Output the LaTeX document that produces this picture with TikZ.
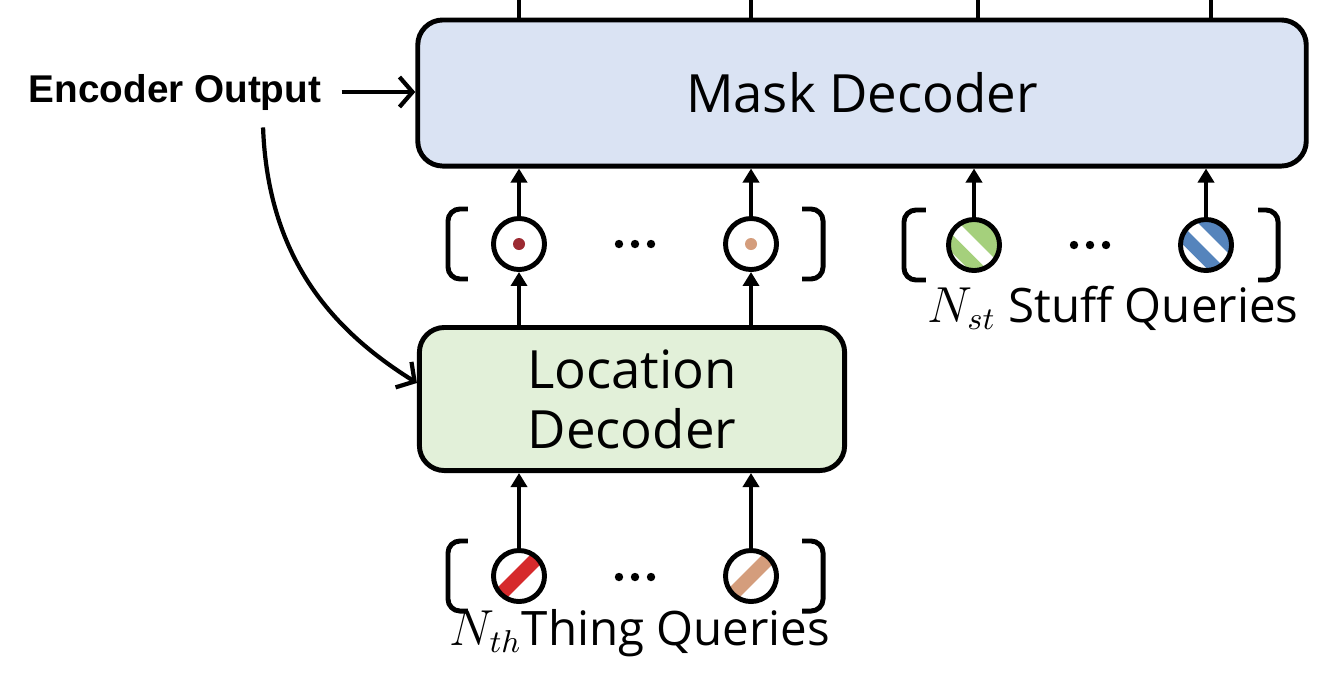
\documentclass[tikz,border=0pt]{standalone}
\usepackage{fontspec}
\setmainfont{Open Sans}
\newfontfamily\encfont{Liberation Sans}
\usetikzlibrary{arrows.meta, positioning}
\definecolor{mask_blue}{HTML}{DAE3F3}
\definecolor{loc_green}{HTML}{E2F0D9}
\definecolor{thing_red}{HTML}{D62A2C}
\definecolor{thing_tan}{HTML}{D49D7C}
\definecolor{dot_red}{HTML}{9C2A32}
\definecolor{stuff_green}{HTML}{A5D07C}
\definecolor{stuff_blue}{HTML}{5584BC}
\tikzstyle{decoder} = [rectangle, rounded corners=0.25cm, line width=1.4pt, draw=black, align=center, font=\fontsize{15}{17}\selectfont]
\tikzstyle{query} = [circle, minimum size=0.51cm, inner sep=0pt, line width=1.4pt, draw=black, fill=white]
\tikzstyle{query_text} = [font=\fontsize{13.5}{16}\selectfont, anchor=base]
\tikzstyle{arrow} = [line width=1.2pt, -{Triangle[length=0.14cm, width=0.16cm]}]
\tikzstyle{barb_arrow} = [line width=1.2pt, -{Straight Barb[length=0.13cm, width=0.3cm]}]
\tikzstyle{bracket} = [line width=1.4pt, rounded corners=0.12cm]
\tikzstyle{out_line} = [line width=1pt]
\tikzset{
  dot_query/.style={query, path picture={\fill[#1] (path picture bounding box.center) circle (0.06cm);}},
  thing_query/.style={query, path picture={\fill[#1, shift={(path picture bounding box.center)}] (-33.2,23.3) -- (23.3,-33.2) -- (33.2,-23.3) -- (-23.3,33.2) -- cycle;}},
  stuff_query/.style n args={5}{query, path picture={\fill[#1, shift={(path picture bounding box.center)}]
    ({0.707*(-40+(#2))},{0.707*(-40-(#2))}) -- ({0.707*(40+(#2))},{0.707*(40-(#2))}) -- ({0.707*(40+(#3))},{0.707*(40-(#3))}) -- ({0.707*(-40+(#3))},{0.707*(-40-(#3))}) -- cycle
    ({0.707*(-40+(#4))},{0.707*(-40-(#4))}) -- ({0.707*(40+(#4))},{0.707*(40-(#4))}) -- ({0.707*(40+(#5))},{0.707*(40-(#5))}) -- ({0.707*(-40+(#5))},{0.707*(-40-(#5))}) -- cycle;}}
}

\begin{document}
\begin{tikzpicture}[x=0.01cm, y=-0.01cm]
        \useasboundingbox (0,0) rectangle (1337,678);

        \node (mask) [decoder, fill=mask_blue, minimum width=8.88cm, minimum height=1.46cm] at (862,93) {Mask Decoder};
        \node (loc) [decoder, fill=loc_green, minimum width=4.25cm, minimum height=1.43cm] at (632,399) {Location\\Decoder};
        \node (enc) [font=\encfont\bfseries\fontsize{11}{13}\selectfont, anchor=base] at (175,102) {Encoder Output};

        \node (th1) [dot_query=dot_red] at (519,244) {};
        \node (th2) [dot_query=thing_tan] at (751,244) {};
        \node (st1) [stuff_query={stuff_green}{5}{30}{-21}{-8}] at (974,245) {};
        \node (st2) [stuff_query={stuff_blue}{10}{30}{-16}{-3}] at (1206,245) {};
        \node (in1) [thing_query=thing_red] at (519,576) {};
        \node (in2) [thing_query=thing_tan] at (751,576) {};

        \node (stuff_label) [query_text] at (1113,322) {$N_{st}$ Stuff Queries};
        \node (thing_label) [query_text] at (640,645) {$N_{th}$Thing Queries};

        \coordinate (dots_th) at (635,244);
        \coordinate (dots_st) at (1090,245);
        \coordinate (dots_in) at (635,577);
        \foreach \d in {dots_th, dots_st, dots_in}
            \foreach \x in {-0.16, 0, 0.16}
                \fill ([xshift=\x cm]\d) circle (0.042cm);

        \foreach \c/\o/\w in {th1/-0.51/-0.2, th2/0.51/0.21, st1/-0.48/-0.22, st2/0.52/0.2, in1/-0.51/-0.2, in2/0.51/0.21}
            \draw [bracket] ([shift={(\o cm,0.35cm)}]\c.center) -- ++(\w cm,0) -- ++(0,-0.7cm) -- ([shift={(\o cm,-0.35cm)}]\c.center);

        \coordinate (top1) at (519,-5);
        \coordinate (top2) at (751,-5);
        \coordinate (top3) at (978,-5);
        \coordinate (top4) at (1211,-5);
        \foreach \t in {top1, top2, top3, top4}
            \draw [out_line] (mask.north -| \t) -- (\t);

        \foreach \q in {th1, th2, st1, st2}
            \draw [arrow] (\q) -- (\q |- mask.south);
        \foreach \q in {th1, th2}
            \draw [arrow] (\q |- loc.north) -- (\q);
        \draw [arrow] (in1) -- (in1 |- loc.south);
        \draw [arrow] (in2) -- (in2 |- loc.south);

        \draw [barb_arrow] ([xshift=0.08cm]enc.east) -- (mask.west |- enc.east);
        \draw [barb_arrow] ([xshift=0.88cm, yshift=-0.05cm]enc.south) .. controls +(5,135) and +(-80,-50) .. ([yshift=0.16cm]loc.west);
\end{tikzpicture}
\end{document}
